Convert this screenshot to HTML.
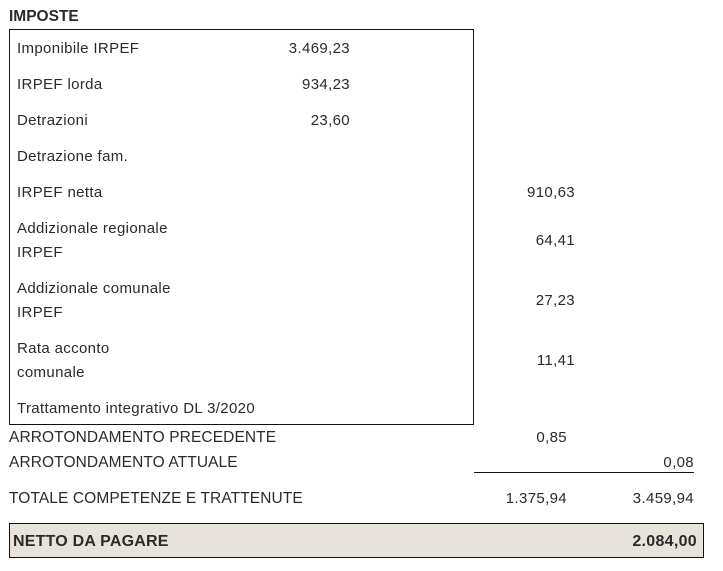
<!DOCTYPE html>
<html><head><meta charset="utf-8"><style>
body{margin:0;width:723px;height:571px;background:#fff;position:relative;font-family:"Liberation Sans",sans-serif;color:#2a2a2a;overflow:hidden}
.t{position:absolute;font-size:15px;letter-spacing:0.35px;line-height:16px;white-space:nowrap;transform:translateY(-7px)}
.r{text-align:right}
.b{font-weight:bold}
.L{font-size:15.5px;letter-spacing:0.1px}
</style></head><body>
<div class="t b" style="left:9px;top:16px;font-size:15.5px;letter-spacing:0">IMPOSTE</div>
<div style="position:absolute;left:9px;top:29px;width:463px;height:394px;border:1px solid #111"></div>
<div class="t" style="left:17px;top:48px">Imponibile IRPEF</div>
<div class="t r" style="right:373px;top:48px">3.469,23</div>
<div class="t" style="left:17px;top:84px">IRPEF lorda</div>
<div class="t r" style="right:373px;top:84px">934,23</div>
<div class="t" style="left:17px;top:120px">Detrazioni</div>
<div class="t r" style="right:373px;top:120px">23,60</div>
<div class="t" style="left:17px;top:156px">Detrazione fam.</div>
<div class="t" style="left:17px;top:192px">IRPEF netta</div>
<div class="t r" style="right:148px;top:192px">910,63</div>
<div class="t" style="left:17px;top:228px">Addizionale regionale</div>
<div class="t" style="left:17px;top:252px">IRPEF</div>
<div class="t r" style="right:148px;top:240px">64,41</div>
<div class="t" style="left:17px;top:288px">Addizionale comunale</div>
<div class="t" style="left:17px;top:312px">IRPEF</div>
<div class="t r" style="right:148px;top:300px">27,23</div>
<div class="t" style="left:17px;top:348px">Rata acconto</div>
<div class="t" style="left:17px;top:372px">comunale</div>
<div class="t r" style="right:148px;top:360px">11,41</div>
<div class="t" style="left:17px;top:408px">Trattamento integrativo DL 3/2020</div>
<div class="t L" style="left:9px;top:437px">ARROTONDAMENTO PRECEDENTE</div>
<div class="t r" style="right:156px;top:437px">0,85</div>
<div class="t L" style="left:9px;top:462px">ARROTONDAMENTO ATTUALE</div>
<div class="t r" style="right:29px;top:462px">0,08</div>
<div style="position:absolute;left:474px;top:472px;width:220px;height:1px;background:#111"></div>
<div class="t L" style="left:9px;top:498px">TOTALE COMPETENZE E TRATTENUTE</div>
<div class="t r" style="right:156px;top:498px">1.375,94</div>
<div class="t r" style="right:29px;top:498px">3.459,94</div>
<div style="position:absolute;left:9px;top:523px;width:693px;height:33px;border:1px solid #111;background:#e8e2dc"></div>
<div class="t b" style="left:13px;top:541px;font-size:16px;letter-spacing:0.2px">NETTO DA PAGARE</div>
<div class="t b r" style="right:26px;top:541px;font-size:16px;letter-spacing:0.3px">2.084,00</div>
</body></html>
